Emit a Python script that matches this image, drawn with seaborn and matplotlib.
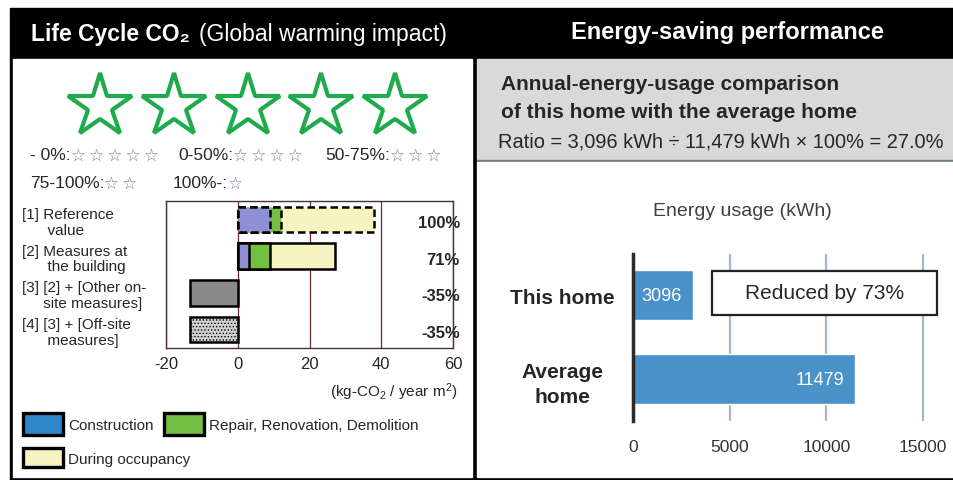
# === IMPORTS ===
import numpy as np
import seaborn as sns
import matplotlib.pyplot as plt
from matplotlib import transforms
from matplotlib.patches import Rectangle, Patch

# === DATA ===
# life cycle CO2 (kg-CO2 / year m2), one entry per row of the chart
co2_rows = ["[1] Reference\n      value",
            "[2] Measures at\n      the building",
            "[3] [2] + [Other on-\n     site measures]",
            "[4] [3] + [Off-site\n      measures]"]
construction = [9, 3]
repair = [3, 6]
occupancy = [26, 18]
net_after_offsets = [-13.3, -13.3]   # rows [3] and [4]
co2_ticks = [-20, 0, 20, 40, 60]
legend_labels = ["Construction", "Repair, Renovation, Demolition", "During occupancy"]

stars_earned = 5
rating_bands = ["- 0%:", "0-50%:", "50-75%:", "75-100%:", "100%-:"]
rating_stars = [5, 4, 3, 2, 1]

homes = ["This home", "Average\nhome"]
energy_kwh = [3096, 11479]
energy_ticks = [0, 5000, 10000, 15000]

# === SETTINGS ===
W, H = 954, 481
BAR_BLUE = "#8f8fd6"
LEG_BLUE = "#2f86c9"
GREEN = "#72bf44"
YELLOW = "#f7f4c2"
DARK_GRAY = "#8a8a8a"
LIGHT_GRAY = "#d2d2d2"
STAR_GREEN = "#1faa4b"
ENERGY_BLUE = "#4b92cb"
NARROW = ["Liberation Sans Narrow", "Liberation Sans", "DejaVu Sans"]

sns.set_style("white")
plt.rcParams["font.family"] = ["Liberation Sans", "DejaVu Sans"]
plt.rcParams["mathtext.default"] = "regular"
plt.rcParams["axes.unicode_minus"] = False
plt.rcParams["hatch.color"] = "#8a8a8a"
plt.rcParams["hatch.linewidth"] = 0.6


def px_box(x0, y0, x1, y1):
    """pixel box (top-left origin) -> figure fraction rect"""
    return [x0 / W, 1 - y1 / H, (x1 - x0) / W, (y1 - y0) / H]


def fx(x):
    return x / W


def fy(y):
    return 1 - y / H


fig = plt.figure(figsize=(W / 100, H / 100), dpi=100)

# === 1. BACKGROUND PANELS ===
bg = fig.add_axes([0, 0, 1, 1])
bg.set_xlim(0, W)
bg.set_ylim(H, 0)
bg.axis("off")
bg.add_patch(Rectangle((10, 9), W - 10, H - 9, color="black"))
bg.add_patch(Rectangle((13, 60), 459, 418, color="white"))
bg.add_patch(Rectangle((477, 60), W - 477, 101, color="#d9d9d9"))
bg.add_patch(Rectangle((477, 161), W - 477, 2, color="#6e7b88"))
bg.add_patch(Rectangle((477, 163), W - 477, 315, color="white"))

fig.text(fx(31), fy(34), "Life Cycle CO\u2082", color="white", fontsize=16.5,
         fontweight="bold", va="center")
fig.text(fx(199), fy(34), "(Global warming impact)", color="white", fontsize=16.5,
         va="center")
fig.text(fx(727), fy(33), "Energy-saving performance", color="white", fontsize=17,
         fontweight="bold", va="center", ha="center")

# === 2. STAR RATING ===
axs = fig.add_axes(px_box(63, 72, 432, 142))
axs.set_xlim(-0.5, 4.5)
axs.set_ylim(1, -1)
axs.axis("off")
axs.plot(range(stars_earned), [0] * stars_earned, ls="", marker="*", ms=48,
         mfc="white", mec=STAR_GREEN, mew=3)

rating_pos = [(30, 156), (178, 156), (325, 156), (30, 184), (173, 184)]
for (x, y), band, n in zip(rating_pos, rating_bands, rating_stars):
    t = bg.text(x, y, band, fontsize=12.5, va="center")
    bg.annotate("\u2009".join(["\u2606"] * n), xy=(1, 0.5), xycoords=t, va="center",
                ha="left", fontsize=12, color="#6f8196", family="DejaVu Sans")

# === 3. LIFE CYCLE CO2 BARS ===
ax = fig.add_axes(px_box(166, 202, 453, 349))
ax.patch.set_visible(False)
top = co2_rows[:2]
stack_total = np.add(np.add(construction, repair), occupancy)
layers = [(stack_total, YELLOW), (np.add(construction, repair), GREEN),
          (np.array(construction), BAR_BLUE)]
for vals, col in layers:
    n0 = len(ax.patches)
    sns.barplot(x=vals, y=top, order=co2_rows, orient="h", color=col, saturation=1,
                width=0.7, edgecolor="black", linewidth=1.8, ax=ax)
    ax.patches[n0].set_linestyle((0, (3, 1.6)))  # reference row is dashed

sns.barplot(x=net_after_offsets, y=co2_rows[2:], order=co2_rows, hue=co2_rows[2:],
            palette=[DARK_GRAY, LIGHT_GRAY], orient="h", saturation=1, width=0.7,
            edgecolor="black", linewidth=1.8, legend=False, ax=ax)
ax.patches[-1].set_hatch(".....")

ax.set_xlim(-20, 60)
ax.set_ylim(3.5, -0.5)
ax.set_xticks(co2_ticks)
ax.set_xlabel("")
ax.set_ylabel("")
ax.xaxis.grid(True, color="#6b2b2b", lw=0.9)
ax.yaxis.grid(False)
ax.set_axisbelow(True)
for s in ax.spines.values():
    s.set_color("#4a3030")
    s.set_linewidth(1.0)
ax.set_yticks(range(len(co2_rows)))
ax.set_yticklabels(co2_rows, ha="left", fontsize=11, linespacing=1.15)
ax.tick_params(axis="y", length=0, pad=144 * 0.72)
ax.tick_params(axis="x", length=0, labelsize=12, pad=6)

# ratio to the reference value, right of the plot
net = [stack_total[0], stack_total[1]] + net_after_offsets
blend = transforms.blended_transform_factory(ax.transAxes, ax.transData)
for i, v in enumerate(net):
    ax.text(1.024, i + 0.08, f"{round(100 * v / stack_total[0])}%", transform=blend,
            ha="right", va="center", fontsize=12, fontweight="bold", clip_on=False)

fig.text(fx(458), fy(392), "(kg-CO$_2$ / year m$^2$)", ha="right", va="center",
         fontsize=11)

hsz = 15.3  # legend font size in px
fig.legend(handles=[Patch(fc=LEG_BLUE, ec="black", lw=2.4),
                    Patch(fc=GREEN, ec="black", lw=2.4)],
           labels=legend_labels[:2], ncol=2, loc="upper left",
           bbox_to_anchor=(fx(23), fy(414)), frameon=False, fontsize=11,
           handlelength=40 / hsz, handleheight=28 / hsz, handletextpad=5 / hsz,
           columnspacing=11 / hsz, borderpad=0, borderaxespad=0)
fig.legend(handles=[Patch(fc=YELLOW, ec="black", lw=2.4)], labels=legend_labels[2:],
           loc="upper left", bbox_to_anchor=(fx(23), fy(449)), frameon=False,
           fontsize=11, handlelength=40 / hsz, handleheight=24 / hsz,
           handletextpad=5 / hsz, borderpad=0, borderaxespad=0)

# === 4. ENERGY-SAVING PERFORMANCE ===
ratio = 100 * energy_kwh[0] / energy_kwh[1]
fig.text(fx(501), fy(85), "Annual-energy-usage comparison", fontsize=15,
         fontweight="bold", va="center")
fig.text(fx(501), fy(113), "of this home with the average home", fontsize=15,
         fontweight="bold", va="center")
fig.text(fx(498), fy(142),
         f"Ratio = {energy_kwh[0]:,} kWh \u00f7 {energy_kwh[1]:,} kWh \u00d7 100% = {ratio:.1f}%",
         fontsize=14.4, va="center")
fig.text(fx(742), fy(212), "Energy usage (kWh)", fontsize=14, color="#404040",
         ha="center", va="center", family=NARROW)

ax2 = fig.add_axes(px_box(633, 255, 925, 422))
ax2.patch.set_visible(False)
sns.barplot(x=energy_kwh, y=homes, orient="h", color=ENERGY_BLUE, saturation=1,
            width=0.6, ax=ax2)
ax2.set_xlim(0, 15100)
ax2.set_ylim(1.5, -0.49)
ax2.set_xticks(energy_ticks)
ax2.set_xlabel("")
ax2.set_ylabel("")
ax2.xaxis.grid(True, color="#a3b8ca", lw=1.6)
ax2.yaxis.grid(False)
ax2.set_axisbelow(True)
for side in ["top", "right", "bottom"]:
    ax2.spines[side].set_visible(False)
ax2.spines["left"].set_color("#2b2b2b")
ax2.spines["left"].set_linewidth(2.5)
ax2.set_yticks(range(len(homes)))
ax2.set_yticklabels(homes, ha="center", fontweight="bold", fontsize=15, linespacing=1.4)
ax2.tick_params(axis="y", length=0, pad=71 * 0.72)
ax2.tick_params(axis="x", length=0, pad=13, labelsize=12.5, labelcolor="#333333")
for lab in ax2.get_xticklabels():
    lab.set_family(NARROW)

for i, v in enumerate(energy_kwh):
    ax2.annotate(str(v), xy=(v, i), xytext=(-8, 0), textcoords="offset points",
                 ha="right", va="center", color="white", fontsize=13, family=NARROW)

ov = fig.add_axes([0, 0, 1, 1])
ov.set_xlim(0, W)
ov.set_ylim(H, 0)
ov.axis("off")
ov.add_patch(Rectangle((712, 272), 225, 44, fc="white", ec="#222222", lw=1.6))
ov.text(825, 294, f"Reduced by {round(100 - ratio)}%", fontsize=15, ha="center",
        va="center")

fig.savefig("out.png", dpi=100)
plt.close(fig)
